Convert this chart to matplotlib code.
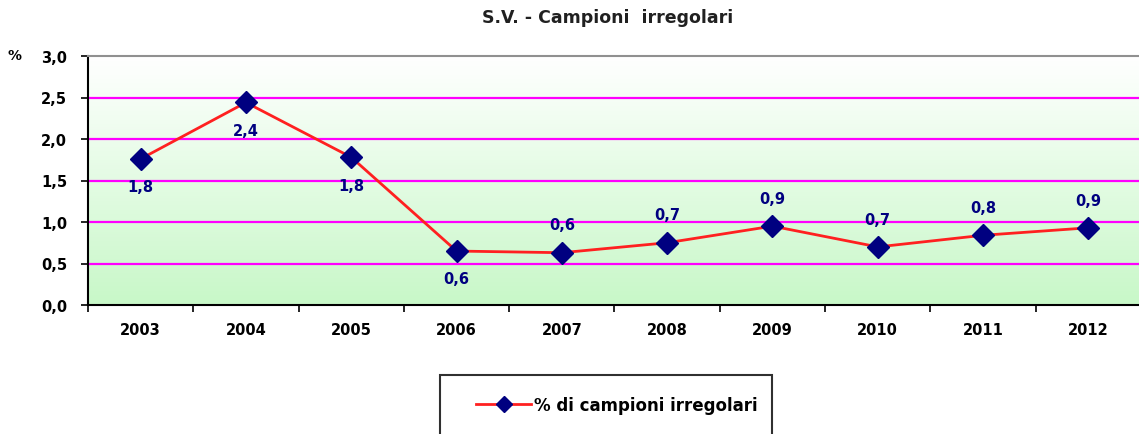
import matplotlib
matplotlib.use("Agg")
import matplotlib.pyplot as plt
import numpy as np
from matplotlib.patches import Rectangle
from matplotlib.colors import LinearSegmentedColormap

years = ["2003", "2004", "2005", "2006", "2007", "2008", "2009", "2010", "2011", "2012"]
values = [1.76, 2.44, 1.78, 0.65, 0.63, 0.75, 0.95, 0.70, 0.84, 0.93]
labels = ["1,8", "2,4", "1,8", "0,6", "0,6", "0,7", "0,9", "0,7", "0,8", "0,9"]
label_below = [True, True, True, True, False, False, False, False, False, False]
yticks = [0.0, 0.5, 1.0, 1.5, 2.0, 2.5, 3.0]
ytick_labels = ["0,0", "0,5", "1,0", "1,5", "2,0", "2,5", "3,0"]

plt.rcParams['font.family'] = ['DejaVu Sans']

fig = plt.figure(figsize=(11.39, 4.35), dpi=100)
ax = fig.add_axes([88/1139, 1-306/435, (1141-88)/1139, (306-57)/435])

n = len(years)
x = np.arange(n)
ax.set_xlim(-0.5, n-0.5)
ax.set_ylim(0, 3.0)

# gradient background: white at top, light green at bottom
cmap = LinearSegmentedColormap.from_list("g", ["#c8f8c8", "#ffffff"])
grad = np.linspace(0, 1, 256).reshape(-1, 1)
ax.imshow(grad, aspect='auto', cmap=cmap, extent=[-0.5, n-0.5, 0, 3.0],
          origin='lower', zorder=0)

for yv in yticks[1:-1]:
    ax.axhline(yv, color="#ff00ff", lw=1.6, zorder=1)

ax.plot(x, values, color="#ff2020", lw=2.0, zorder=2,
        marker='D', markersize=11, markerfacecolor="#000080", markeredgecolor="#000080",
        label="% di campioni irregolari")

for xi, v, lab, below in zip(x, values, labels, label_below):
    off = -20 if below else 20
    ax.annotate(lab, (xi, v), xytext=(0, off), textcoords='offset points',
                ha='center', va='center', fontsize=10.5, fontweight='bold', color="#000080")

ax.set_yticks(yticks)
ax.set_yticklabels(ytick_labels, fontsize=10.5, fontweight='bold')
ax.set_xticks(x)
ax.set_xticklabels(years, fontsize=10.5, fontweight='bold')
ax.set_xticks(np.arange(n+1) - 0.5, minor=True)
ax.tick_params(axis='x', which='major', length=0, pad=12)
ax.tick_params(axis='x', which='minor', length=5, width=1.2, color='black', direction='out')
ax.tick_params(axis='y', length=5, width=1.2, direction='out', pad=10)

for s in ['left', 'bottom']:
    ax.spines[s].set_color('black')
    ax.spines[s].set_linewidth(1.5)
ax.spines['top'].set_color('#909090')
ax.spines['top'].set_linewidth(1.5)
ax.spines['right'].set_visible(False)

fig.text(608/1139, 1-18/435, "S.V. - Campioni  irregolari", ha='center', va='center',
         fontsize=12.5, fontweight='bold', color="#202020")
fig.text(15/1139, 1-56/435, "%", ha='center', va='center', fontsize=10, fontweight='bold')

# legend box
fig.patches.append(Rectangle((440/1139, -0.05), (772-440)/1139, 0.05 + (435-376)/435,
                             transform=fig.transFigure, fill=False, edgecolor='#303030', lw=1.5))
fig.legend(loc='center', bbox_to_anchor=(617/1139, 1-406/435), frameon=False,
           prop={'size': 12, 'weight': 'bold'}, handlelength=3.3, handletextpad=0.2,
           markerscale=0.7)

fig.savefig("out.png", dpi=100)
